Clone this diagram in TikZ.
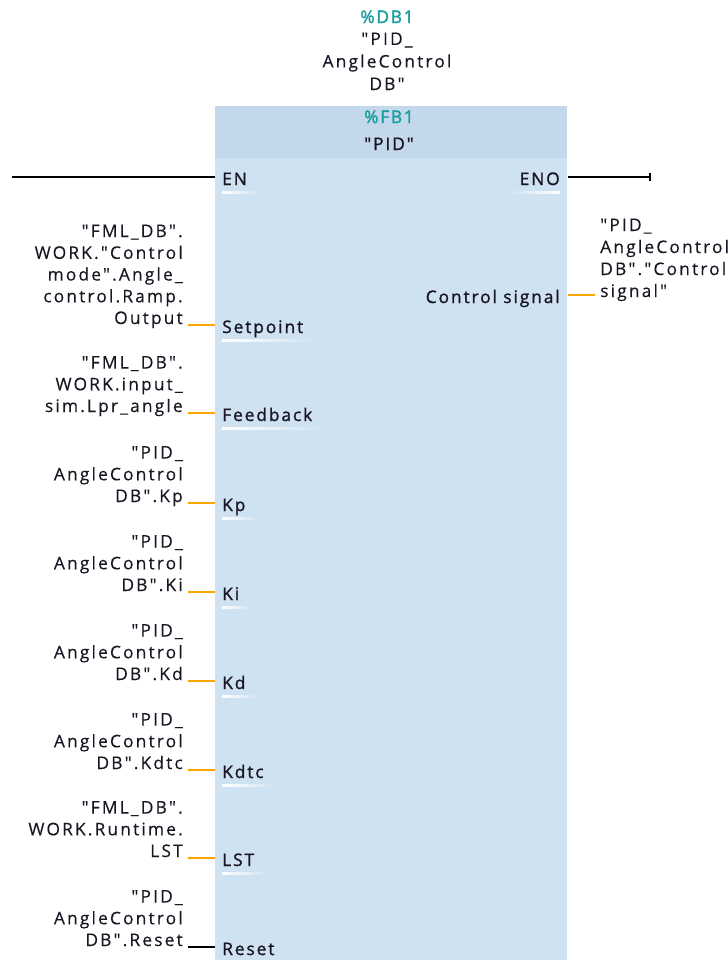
\documentclass[tikz,border=0pt]{standalone}
\usepackage{fontspec}
\setmainfont{Open Sans}[LetterSpace=12.5,FakeBold=0.3,Ligatures=TeXOff]
\newfontfamily\pinfont{Open Sans}[LetterSpace=11,FakeBold=1.2,Ligatures=TeXOff]
\newfontfamily\tealfont{Open Sans}[LetterSpace=10,FakeBold=1.8,Ligatures=TeXOff]
\definecolor{bodyc}{RGB}{207,226,241}
\definecolor{hdrc}{RGB}{195,216,234}
\definecolor{tealc}{RGB}{22,158,160}
\definecolor{orangec}{RGB}{255,165,0}
\definecolor{txtc}{RGB}{24,22,34}
\newcommand\rlines[1]{\vbox{\baselineskip=16.3pt\halign{\hfil##\cr#1\crcr}}}
\newcommand\llines[1]{\vbox{\baselineskip=16.5pt\halign{##\hfil\cr#1\crcr}}}
\newcommand\clines[1]{\vbox{\baselineskip=16.9pt\halign{\hfil##\hfil\cr#1\crcr}}}
\tikzset{
  lbl/.style={inner sep=0pt, text=txtc, font=\fontsize{13pt}{16.3pt}\selectfont},
  pintext/.style={inner sep=0pt, text=txtc, font=\fontsize{13pt}{16.3pt}\pinfont},
  tealtext/.style={inner sep=0pt, text=tealc, font=\fontsize{13pt}{16.3pt}\tealfont},
  wire/.style={line width=1.6pt, orangec},
  blackwire/.style={line width=1.6pt, black},
}
\newcommand\leftpin[5]{%
  \coordinate (#1c) at (188,#2);
  \draw[#5] (#1c) -- (#1c -| blk.west);
  \node[pintext, anchor=base west] (#1p) at (222,#2+8) {#3};
  \shade[left color=white, right color=bodyc]
    ([yshift=-4.8pt]#1p.base west) rectangle ([xshift=9pt,yshift=-6pt]#1p.base east);
  \node[lbl, anchor=base east] (#1l) at (183,#2-1) {\rlines{#4}};
}
\begin{document}
\begin{tikzpicture}[x=0.75pt,y=-0.75pt]
\useasboundingbox (0,0) rectangle (728,960);
% block
\node[draw=none, fill=bodyc, inner sep=0pt, minimum width=352*0.75pt, minimum height=810*0.75pt, anchor=north west] (blk) at (215,158) {};
\node[draw=none, fill=hdrc, inner sep=0pt, minimum width=352*0.75pt, minimum height=52*0.75pt, anchor=north west] (hdr) at (215,106) {};
% header texts
\node[tealtext, anchor=base] (fb) at (389,123) {\%FB1};
\node[pintext, anchor=base] (fbname) at (389,150) {"PID"};
\node[tealtext, anchor=base] (db) at (387,23) {\%DB1};
\node[lbl, anchor=base] (dbname) at (387,90) {\clines{"PID\_\cr AngleControl\cr DB"}};
% EN / ENO
\coordinate (enL) at (12,177);
\draw[blackwire] (enL) -- (enL -| blk.west);
\node[pintext, anchor=base west] (en) at (222,185) {EN};
\shade[left color=white, right color=bodyc]
  ([yshift=-4.8pt]en.base west) rectangle ([xshift=9pt,yshift=-6pt]en.base east);
\node[pintext, anchor=base east] (eno) at (560,185) {ENO};
\shade[left color=bodyc, right color=white]
  ([xshift=-9pt,yshift=-4.8pt]eno.base west) rectangle ([yshift=-6pt]eno.base east);
\coordinate (enoR) at (650,177);
\draw[blackwire] (enoR -| blk.east) -- (enoR);
\draw[line width=1.6pt] ([yshift=3pt]enoR) -- ([yshift=-3pt]enoR);
% output
\node[pintext, anchor=base east] (cs) at (560,303) {Control signal};
\coordinate (csR) at (595,295);
\draw[wire] (csR -| blk.east) -- (csR);
\node[lbl, anchor=base west] (csl) at (600,297) {\llines{"PID\_\cr AngleControl\cr DB"."Control\cr signal"}};
% inputs
\leftpin{sp}{325}{Setpoint}{"FML\_DB".\cr WORK."Control\cr mode".Angle\_\cr control.Ramp.\cr Output}{wire}
\leftpin{fb}{413}{Feedback}{"FML\_DB".\cr WORK.input\_\cr sim.Lpr\_angle}{wire}
\leftpin{kp}{503}{Kp}{"PID\_\cr AngleControl\cr DB".Kp}{wire}
\leftpin{ki}{592}{Ki}{"PID\_\cr AngleControl\cr DB".Ki}{wire}
\leftpin{kd}{681}{Kd}{"PID\_\cr AngleControl\cr DB".Kd}{wire}
\leftpin{kdtc}{770}{Kdtc}{"PID\_\cr AngleControl\cr DB".Kdtc}{wire}
\leftpin{lst}{858}{LST}{"FML\_DB".\cr WORK.Runtime.\cr LST}{wire}
\leftpin{rs}{947}{Reset}{"PID\_\cr AngleControl\cr DB".Reset}{blackwire}
\end{tikzpicture}
\end{document}
